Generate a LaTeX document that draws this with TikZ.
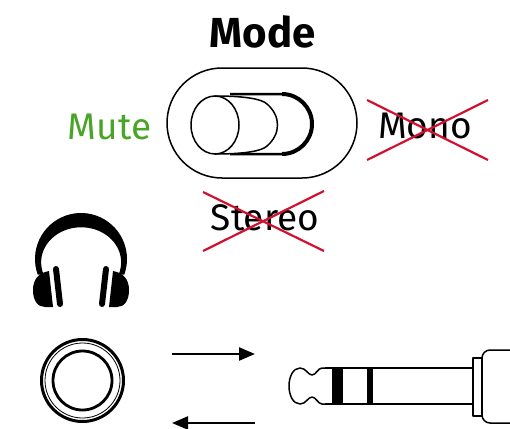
\documentclass[tikz,border=0pt]{standalone}
\usepackage{fontspec}
\setmainfont{Fira Sans}
\usetikzlibrary{arrows.meta}
\definecolor{mutegreen}{RGB}{72,165,40}
\definecolor{crossred}{RGB}{210,16,48}
\begin{document}
\begin{tikzpicture}[x=1pt,y=-1pt,line join=round,
  optlabel/.style={font=\fontsize{37}{40}\selectfont,inner sep=0pt,anchor=base},
  strike/.style={crossred,line width=2.2pt},
  outline/.style={line width=1.5pt},
  flow/.style={line width=2.4pt,-{Triangle[length=16pt,width=13pt]}}]
\useasboundingbox (0,0) rectangle (510,428);

% title
\node[font=\bfseries\fontsize{42}{46}\selectfont,inner sep=0pt,anchor=base] (mode) at (262.5,47) {Mode};

% switch housing
\draw[outline] (222,68) -- (302,68) arc[start angle=270,end angle=450,radius=55]
  -- (222,178) arc[start angle=90,end angle=270,radius=55] -- cycle;
% slider track
\draw[line width=2.5pt] (230,94) -- (282,94) arc[start angle=270,end angle=450,radius=30] -- (230,154);
\draw[line width=4pt] (282,94) arc[start angle=270,end angle=450,radius=30];
% slider knob
\filldraw[fill=white,outline] (215,96) .. controls (245,96) and (262,99) .. (267,104)
  .. controls (281,116) and (281,134) .. (267,146)
  .. controls (262,151) and (245,154) .. (215,154) -- cycle;
\filldraw[fill=white,outline] (215,125) ellipse[x radius=24,y radius=29];

% positions
\node[optlabel,text=mutegreen] (mute) at (109.5,139) {Mute};
\node[optlabel] (mono) at (425,138) {Mono};
\node[optlabel] (stereo) at (265,230) {Stereo};
\draw[strike] (367,100) -- (488,160);
\draw[strike] (367,160) -- (488,100);
\draw[strike] (203,192) -- (324,251);
\draw[strike] (203,251) -- (324,191);

% headphones
\fill (81,259) ++(160:46) arc[start angle=160,end angle=380,radius=46]
  -- ++(-5.5,-0.5) arc[start angle=20,end angle=-200,x radius=40,y radius=35] -- cycle;
\fill (49,271) .. controls (38,273) and (33,280) .. (33,290)
  .. controls (33,301) and (38,307) .. (45,307) -- (53,307) -- cycle;
\fill (113,271) .. controls (124,273) and (129,280) .. (129,290)
  .. controls (129,301) and (124,307) .. (117,307) -- (109,307) -- cycle;
\draw[line width=6pt,line cap=round] (56,269) -- (60,304);
\draw[line width=6pt,line cap=round] (106,269) -- (102,304);

% socket
\draw[line width=3pt] (82.5,380.5) circle[radius=41];
\draw[line width=0.8pt] (82.5,380.5) circle[radius=37.5];
\draw[line width=2.8pt] (82.5,380.5) circle[radius=29.5];

% signal direction
\coordinate (outS) at (172,354);
\coordinate (outE) at (255,354);
\coordinate (inS) at (255,423);
\coordinate (inE) at (172,423);
\draw[flow] (outS) -- (outE);
\draw[flow] (inS) -- (inE);

% jack plug
\draw[outline,fill=white] (325,368) -- (322,368) .. controls (318,368) and (316,375) .. (312,375)
  .. controls (308,375) and (306,368) .. (300,368)
  .. controls (293,368) and (289,377) .. (289,386)
  .. controls (289,395) and (293,404) .. (300,404)
  .. controls (306,404) and (308,397) .. (312,397)
  .. controls (316,397) and (318,404) .. (322,404) -- (325,404);
\draw[outline] (325,368) -- (473,368);
\draw[outline] (325,404) -- (473,404);
\fill (332,368) rectangle (343,404);
\fill (367,368) rectangle (373,404);
\draw[outline] (473,358) rectangle (482,416);
\draw[outline,rounded corners=8pt] (520,350) -- (482,350) -- (482,423) -- (520,423);
\end{tikzpicture}
\end{document}
